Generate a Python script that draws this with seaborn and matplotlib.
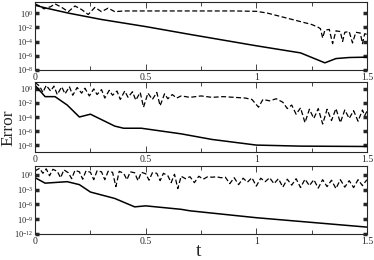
import numpy as np
import pandas as pd
import seaborn as sns
import matplotlib
matplotlib.use("Agg")
import matplotlib.pyplot as plt
from matplotlib.ticker import MultipleLocator, FixedLocator, NullLocator, LogFormatterMathtext, FuncFormatter

# Dados (expoentes base 10)
t_sol1 = [0.0, 0.05, 0.15, 0.3, 0.5, 0.7, 1.0, 1.2, 1.31, 1.36, 1.42, 1.5]
e_sol1 = [1.1, 0.7, 0.0, -0.9, -1.9, -3.0, -4.6, -5.6, -7.0, -6.4, -6.25, -6.2]

t_das1 = [0.0, 0.02, 0.04, 0.07, 0.09, 0.12, 0.15, 0.18, 0.21, 0.24, 0.27, 0.30, 0.33,
          0.36, 0.40, 0.5, 0.6, 0.7, 0.8, 0.9, 1.0, 1.05, 1.1, 1.15, 1.2, 1.25, 1.28,
          1.29, 1.30, 1.31, 1.33, 1.345, 1.36, 1.38, 1.39, 1.40, 1.42, 1.435, 1.45,
          1.47, 1.48, 1.49, 1.5]
e_das1 = [1.3, 1.0, 0.6, 0.9, 1.3, 0.8, 0.2, 1.0, 0.5, -0.2, 0.8, 0.2, 0.7,
          0.2, 0.3, 0.3, 0.3, 0.3, 0.3, 0.3, 0.25, 0.0, -0.4, -0.8, -1.2, -1.6, -2.0,
          -2.2, -3.5, -2.4, -2.3, -4.3, -2.5, -2.6, -4.0, -2.7, -2.6, -4.2, -2.7,
          -2.8, -4.3, -2.9, -3.0]

t_sol2 = [0.0, 0.045, 0.09, 0.145, 0.2, 0.25, 0.36, 0.4, 0.48, 0.66, 0.8, 1.0, 1.2, 1.5]
e_sol2 = [0.5, -1.1, -1.1, -2.3, -4.0, -3.6, -5.3, -5.6, -5.6, -6.4, -7.2, -8.0, -8.15, -8.2]

t_das2 = [0.00, 0.02, 0.035, 0.05, 0.07, 0.085, 0.10, 0.12, 0.135, 0.155, 0.17, 0.19,
          0.21, 0.225, 0.245, 0.265, 0.28, 0.30, 0.315, 0.335, 0.35, 0.37, 0.385, 0.405,
          0.42, 0.44, 0.455, 0.475, 0.49, 0.51, 0.53, 0.55, 0.565, 0.585, 0.60, 0.62,
          0.64, 0.66, 0.70, 0.75, 0.80, 0.85, 0.90, 0.95, 0.98, 1.01, 1.03, 1.06, 1.09,
          1.12, 1.14, 1.16, 1.18, 1.20, 1.22, 1.24, 1.26, 1.28, 1.30, 1.32, 1.34, 1.36,
          1.38, 1.40, 1.42, 1.44, 1.46, 1.48, 1.49, 1.50]
e_das2 = [0.9, 0.4, -0.5, 0.5, -0.3, 0.4, -0.8, 0.3, -0.7, 0.3, -0.9, 0.2,
          -0.6, 0.1, -1.0, 0.0, -0.8, -0.1, -1.3, -0.2, -0.9, -0.3, -1.5, -0.3,
          -1.2, -0.4, -1.6, -0.5, -2.6, -0.6, -1.5, -0.5, -2.4, -0.7, -1.4, -0.8,
          -1.3, -1.0, -1.2, -1.0, -1.2, -1.1, -1.2, -1.3, -1.5, -2.6, -1.5, -1.7, -1.4,
          -1.9, -2.8, -2.3, -3.6, -2.7, -4.8, -2.9, -4.2, -2.8, -5.0, -2.9, -4.5, -2.8,
          -4.8, -3.0, -4.2, -3.1, -4.6, -3.0, -3.8, -3.2]

t_sol3 = [0.0, 0.045, 0.145, 0.2, 0.25, 0.36, 0.45, 0.5, 0.66, 0.7, 1.0, 1.5]
e_sol3 = [-0.6, -1.7, -1.4, -2.0, -3.5, -4.8, -6.5, -6.3, -7.0, -7.3, -8.7, -10.6]

t_das3 = [0.00, 0.02, 0.035, 0.05, 0.065, 0.08, 0.10, 0.115, 0.13, 0.15, 0.165, 0.18,
          0.20, 0.215, 0.23, 0.25, 0.265, 0.28, 0.30, 0.315, 0.33, 0.35, 0.365, 0.38,
          0.40, 0.415, 0.43, 0.45, 0.465, 0.48, 0.50, 0.515, 0.53, 0.55, 0.565, 0.58,
          0.60, 0.615, 0.63, 0.645, 0.66, 0.68, 0.70, 0.72, 0.74, 0.76, 0.78, 0.80,
          0.82, 0.84, 0.86, 0.88, 0.90, 0.92, 0.94, 0.96, 0.98, 1.00, 1.02, 1.04, 1.06,
          1.08, 1.10, 1.12, 1.14, 1.16, 1.18, 1.20, 1.22, 1.24, 1.26, 1.28, 1.30, 1.32,
          1.34, 1.36, 1.38, 1.40, 1.42, 1.44, 1.46, 1.48, 1.50]
e_das3 = [0.8, 1.3, 0.3, 1.2, -0.2, 1.1, 0.7, -0.6, 1.0, 0.4, -0.8, 0.9,
          0.6, -0.9, 0.8, 0.5, -1.0, 0.8, 0.6, -1.0, 0.7, 0.5, -2.4, 0.7,
          0.3, -1.0, 0.6, 0.4, -1.2, 0.5, 0.2, -1.1, 0.4, 0.3, -1.2, 0.3,
          -0.2, -1.6, 0.1, -2.8, -0.3, -0.8, -0.4, -1.6, -0.3, -0.9, -0.4, -0.5,
          -0.4, -0.6, -0.5, -1.8, -0.6, -2.0, -0.7, -1.5, -0.6, -2.3, -0.7, -1.4, -0.6,
          -1.8, -0.8, -2.5, -0.9, -2.1, -0.8, -2.6, -0.9, -2.2, -1.0, -2.7, -1.0, -2.4,
          -1.1, -2.8, -1.0, -2.5, -1.2, -2.6, -1.0, -2.2, -1.0]

paineis = [
    (t_sol1, e_sol1, t_das1, e_das1, (1e-8, 10**1.55), [1e0, 1e-2, 1e-4, 1e-6, 1e-8]),
    (t_sol2, e_sol2, t_das2, e_das2, (1e-9, 1e1), [1e0, 1e-2, 1e-4, 1e-6, 1e-8]),
    (t_sol3, e_sol3, t_das3, e_das3, (1e-12, 10**1.8), [1e0, 1e-3, 1e-6, 1e-9, 1e-12]),
]

sns.set_style("ticks")
plt.rcParams['font.family'] = ['Liberation Serif', 'DejaVu Serif']
plt.rcParams['mathtext.fontset'] = 'stix'

fig = plt.figure(figsize=(3.74, 2.6), dpi=100)
posicoes = [(0.094, 0.731, 0.887, 0.261),
            (0.094, 0.415, 0.887, 0.270),
            (0.094, 0.100, 0.887, 0.262)]

for (ts, es, td, ed, lim, yt), pos in zip(paineis, posicoes):
    ax = fig.add_axes(pos)
    d1 = pd.DataFrame({'t': ts, 'err': np.power(10.0, es)})
    d2 = pd.DataFrame({'t': td, 'err': np.power(10.0, ed)})
    sns.lineplot(data=d1, x='t', y='err', ax=ax, color='black', lw=1.1)
    sns.lineplot(data=d2, x='t', y='err', ax=ax, color='black', lw=0.9, linestyle=(0, (4, 2)))
    ax.set_yscale('log')
    ax.set_ylim(*lim)
    ax.set_xlim(0, 1.5)
    ax.yaxis.set_major_locator(FixedLocator(yt))
    ax.yaxis.set_major_formatter(LogFormatterMathtext())
    ax.yaxis.set_minor_locator(NullLocator())
    ax.xaxis.set_major_locator(MultipleLocator(0.5))
    ax.xaxis.set_minor_locator(MultipleLocator(0.25))
    ax.xaxis.set_major_formatter(FuncFormatter(lambda v, p: f"{v:g}"))
    ax.tick_params(axis='x', which='both', direction='in', top=True, labelsize=7, pad=2)
    ax.tick_params(axis='x', which='major', length=4, width=0.6)
    ax.tick_params(axis='x', which='minor', length=3, width=0.6)
    ax.tick_params(axis='y', which='major', direction='in', right=True, length=3,
                   width=2.5, labelsize=6, pad=1.5)
    for s in ax.spines.values():
        s.set_linewidth(0.8)
    ax.set_xlabel('')
    ax.set_ylabel('')

fig.text(0.022, 0.51, 'Error', rotation=90, fontsize=12.5, ha='center', va='center')
fig.text(0.532, 0.031, 't', fontsize=14, ha='center', va='center')

fig.savefig('out.png', dpi=100)
